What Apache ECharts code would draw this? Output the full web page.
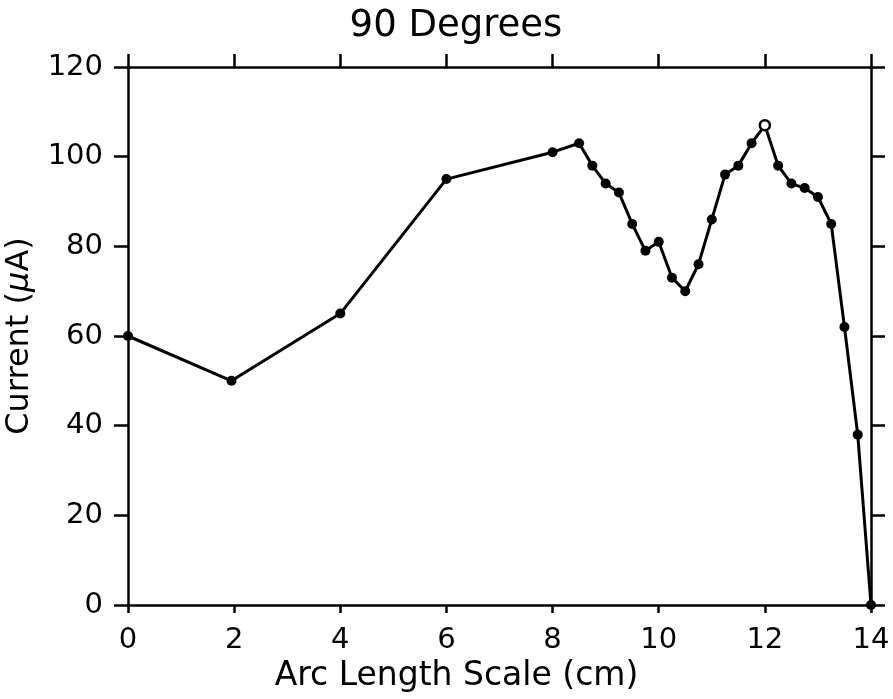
<!DOCTYPE html>
<html>
<head>
<meta charset="utf-8">
<script src="https://cdn.jsdelivr.net/npm/echarts@6/dist/echarts.min.js"></script>
<style>html,body{margin:0;padding:0;background:#fff}#chart{width:893px;height:699px}</style>
</head>
<body>
<div id="chart"></div>
<script>
// Data
const arcLength = [0, 1.95, 4, 6, 8, 8.5, 8.75, 9, 9.25, 9.5, 9.75, 10, 10.25, 10.5, 10.75, 11, 11.25, 11.5, 11.75, 12, 12.25, 12.5, 12.75, 13, 13.25, 13.5, 13.75, 14];
const current   = [60, 50, 65, 95, 101, 103, 98, 94, 92, 85, 79, 81, 73, 70, 76, 86, 96, 98, 103, 107, 98, 94, 93, 91, 85, 62, 38, 0];
const hollowPointX = 12;

const titleText = '90 Degrees';
const xName = 'Arc Length Scale (cm)';

const FONT = 'DejaVu Sans';
const chart = echarts.init(document.getElementById('chart'), null, {renderer: 'canvas'});

const seriesData = arcLength.map((x, i) => {
  const item = {value: [x, current[i]]};
  if (x === hollowPointX) {
    item.itemStyle = {color: '#fff', borderColor: '#000', borderWidth: 2.5};
  }
  return item;
});

const axisLine = {show: true, onZero: false, lineStyle: {color: '#000', width: 2.5}};

chart.setOption({
  animation: false,
  backgroundColor: '#fff',
  title: {
    text: titleText,
    left: 451, top: 3, textAlign: 'center',
    textStyle: {fontFamily: FONT, fontSize: 37, fontWeight: 'normal', color: '#000'}
  },
  grid: {left: 128, right: 22, top: 67, bottom: 94, containLabel: false, outerBoundsMode: 'none'},
  xAxis: [
    {
      type: 'value', position: 'bottom', min: 0, max: 14, interval: 2,
      axisLine: axisLine,
      axisTick: {show: true, inside: false, length: 8, lineStyle: {color: '#000', width: 2.5}},
      axisLabel: {show: true, margin: 21, color: '#000', fontFamily: FONT, fontSize: 29},
      splitLine: {show: false},
      name: xName, nameLocation: 'middle', nameGap: 53,
      nameTextStyle: {fontFamily: FONT, fontSize: 33, color: '#000', padding: [0, 86, 0, 0]}
    },
    {
      type: 'value', position: 'top', min: 0, max: 14, interval: 2,
      axisLine: axisLine,
      axisTick: {show: true, inside: false, length: 13, lineStyle: {color: '#000', width: 2.5}},
      axisLabel: {show: false},
      splitLine: {show: false}
    }
  ],
  yAxis: [
    {
      type: 'value', position: 'left', min: 0, max: 120, interval: 20,
      axisLine: axisLine,
      axisTick: {show: true, inside: false, length: 14, lineStyle: {color: '#000', width: 2.5}},
      axisLabel: {show: true, margin: 25, color: '#000', fontFamily: FONT, fontSize: 29},
      splitLine: {show: false},
      name: '{n|Current (}{mu|μ}{n|A)}', nameLocation: 'middle', nameGap: 92, nameRotate: 90,
      nameTextStyle: {
        fontFamily: FONT, fontSize: 32, color: '#000',
        rich: {
          n: {fontFamily: FONT, fontSize: 32, color: '#000'},
          mu: {fontFamily: FONT, fontSize: 32, color: '#000', fontStyle: 'italic'}
        }
      }
    },
    {
      type: 'value', position: 'right', min: 0, max: 120, interval: 20,
      axisLine: axisLine,
      axisTick: {show: true, inside: false, length: 14, lineStyle: {color: '#000', width: 2.5}},
      axisLabel: {show: false},
      splitLine: {show: false}
    }
  ],
  series: [{
    type: 'line',
    xAxisIndex: 0, yAxisIndex: 0,
    data: seriesData,
    clip: false,
    symbol: 'circle', symbolSize: 10,
    lineStyle: {color: '#000', width: 3},
    itemStyle: {color: '#000'}
  }]
});
</script>
</body>
</html>
